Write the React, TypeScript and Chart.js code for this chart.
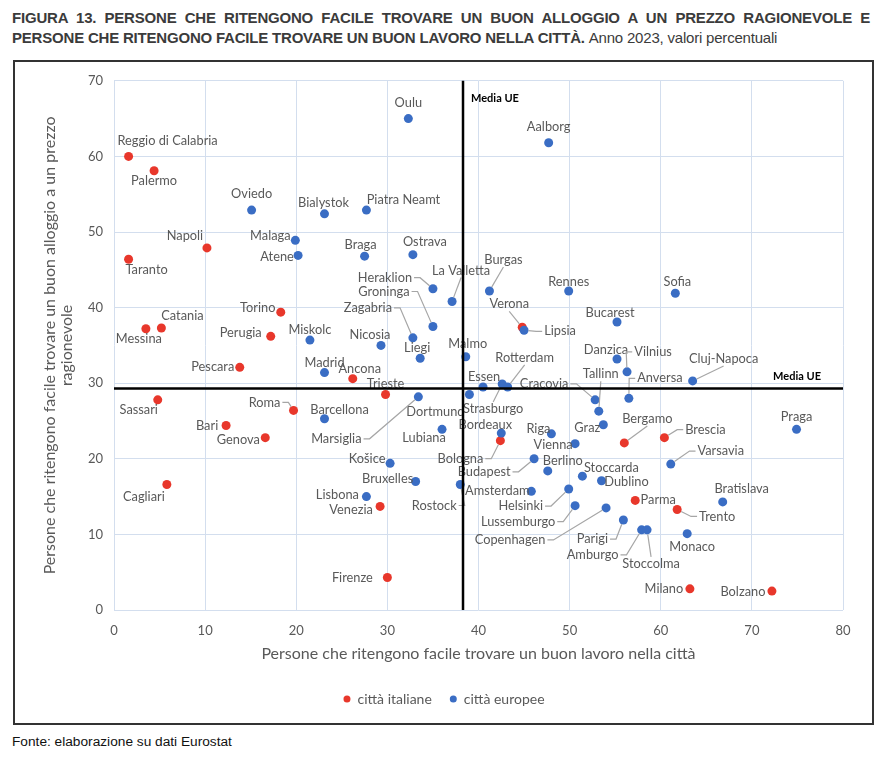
import React, { useEffect, useRef } from 'react';
import { Chart, registerables } from 'chart.js';

Chart.register(...registerables);

// ---- Data (percent values, 2023) ----
const italianCities = ['Reggio di Calabria', 'Palermo', 'Napoli', 'Taranto', 'Torino', 'Catania', 'Messina', 'Perugia', 'Pescara', 'Ancona', 'Trieste', 'Sassari', 'Roma', 'Bari', 'Genova', 'Cagliari', 'Venezia', 'Firenze', 'Verona', 'Bologna', 'Bergamo', 'Brescia', 'Parma', 'Trento', 'Milano', 'Bolzano'];
const italianJob = [1.6, 4.4, 10.2, 1.6, 18.3, 5.2, 3.5, 17.2, 13.8, 26.2, 29.8, 4.8, 19.7, 12.3, 16.6, 5.8, 29.2, 30.0, 44.8, 42.4, 56.0, 60.4, 57.2, 61.8, 63.2, 72.2];
const italianHousing = [60.0, 58.1, 47.9, 46.4, 39.4, 37.3, 37.2, 36.2, 32.1, 30.6, 28.5, 27.8, 26.4, 24.4, 22.8, 16.6, 13.7, 4.3, 37.4, 22.4, 22.1, 22.8, 14.5, 13.3, 2.8, 2.5];

const europeanCities = ['Oulu', 'Aalborg', 'Oviedo', 'Bialystok', 'Piatra Neamt', 'Malaga', 'Atene', 'Braga', 'Ostrava', 'Heraklion', 'La Valletta', 'Burgas', 'Rennes', 'Sofia', 'Groninga', 'Lipsia', 'Bucarest', 'Zagabria', 'Miskolc', 'Nicosia', 'Liegi', 'Malmo', 'Danzica', 'Madrid', 'Vilnius', 'Cluj-Napoca', 'Essen', 'Strasburgo', 'Rotterdam', 'Dortmund', 'Marsiglia', 'Cracovia', 'Anversa', 'Tallinn', 'Barcellona', 'Graz', 'Praga', 'Lubiana', 'Bordeaux', 'Riga', 'Vienna', 'Budapest', 'Košice', 'Varsavia', 'Berlino', 'Stoccarda', 'Dublino', 'Bruxelles', 'Rostock', 'Helsinki', 'Amsterdam', 'Lisbona', 'Bratislava', 'Lussemburgo', 'Copenhagen', 'Parigi', 'Amburgo', 'Stoccolma', 'Monaco'];
const europeanJob = [32.3, 47.7, 15.1, 23.1, 27.7, 19.9, 20.2, 27.5, 32.8, 35.0, 37.1, 41.2, 49.9, 61.6, 35.0, 45.0, 55.2, 32.8, 21.5, 29.3, 33.6, 38.6, 55.2, 23.1, 56.3, 63.5, 40.5, 42.6, 43.2, 39.0, 33.4, 52.8, 56.5, 53.2, 23.1, 53.7, 74.9, 36.0, 42.5, 48.0, 50.6, 46.1, 30.3, 61.1, 47.6, 51.4, 53.5, 33.1, 38.0, 49.9, 45.8, 27.7, 66.8, 50.6, 54.0, 55.9, 57.9, 58.5, 62.9];
const europeanHousing = [65.0, 61.8, 52.9, 52.4, 52.9, 48.9, 46.9, 46.8, 47.0, 42.5, 40.8, 42.2, 42.2, 41.9, 37.5, 37.0, 38.1, 36.0, 35.7, 35.0, 33.3, 33.5, 33.2, 31.4, 31.5, 30.3, 29.5, 29.9, 29.5, 28.5, 28.2, 27.8, 28.0, 26.3, 25.3, 24.5, 23.9, 23.9, 23.4, 23.3, 22.0, 20.0, 19.4, 19.3, 18.4, 17.7, 17.1, 17.0, 16.6, 16.0, 15.7, 15.0, 14.3, 13.8, 13.5, 11.9, 10.6, 10.6, 10.1];

const mediaUeJob = 38.3;
const mediaUeHousing = 29.3;

const xMin = 0, xMax = 80, xStep = 10;
const yMin = 0, yMax = 70, yStep = 10;

// ---- Label placement (pixel offsets from the point: dx, dy, leader line) ----
const labelPlacement: Record<string, [number, number, number]> = {
  'Reggio di Calabria': [39, -16, 0], 'Palermo': [0, 10, 0], 'Napoli': [-22, -12, 0], 'Taranto': [18, 11, 0],
  'Torino': [-23, -4, 0], 'Catania': [21, -12, 0], 'Messina': [-7, 10, 0], 'Perugia': [-30, -3, 0],
  'Pescara': [-27, 0, 0], 'Ancona': [7, -10, 0], 'Trieste': [0, -11, 0], 'Sassari': [-19, 10, 0],
  'Roma': [-29, -8, 1], 'Bari': [-19, 0, 0], 'Genova': [-27, 2, 0], 'Cagliari': [-23, 12, 0],
  'Venezia': [-29, 3, 0], 'Firenze': [-35, 0, 0], 'Verona': [-13, -23, 1], 'Bologna': [-40, 18, 1],
  'Bergamo': [23, -24, 1], 'Brescia': [41, -8, 1], 'Parma': [23, -1, 0], 'Trento': [40, 7, 1],
  'Milano': [-26, 0, 0], 'Bolzano': [-29, 1, 0],
  'Oulu': [0, -16, 0], 'Aalborg': [0, -16, 0], 'Oviedo': [0, -16, 0], 'Bialystok': [-1, -11, 0],
  'Piatra Neamt': [37, -10, 0], 'Malaga': [-25, -4, 0], 'Atene': [-21, 1, 0], 'Braga': [-4, -11, 0],
  'Ostrava': [12, -13, 0], 'Heraklion': [-48, -11, 1], 'La Valletta': [9, -31, 1], 'Burgas': [14, -31, 1],
  'Rennes': [0, -9, 0], 'Sofia': [2, -11, 0], 'Groninga': [-49, -35, 1], 'Lipsia': [36, 1, 1],
  'Bucarest': [-7, -9, 0], 'Zagabria': [-45, -30, 1], 'Miskolc': [0, -10, 0], 'Nicosia': [-11, -11, 0],
  'Liegi': [-3, -10, 0], 'Malmo': [2, -13, 0], 'Danzica': [-11, -9, 0], 'Madrid': [0, -10, 0],
  'Vilnius': [26, -20, 1], 'Cluj-Napoca': [31, -22, 1], 'Essen': [1, -10, 0], 'Strasburgo': [-9, 25, 1],
  'Rotterdam': [17, -29, 1], 'Dortmund': [-34, 17, 0], 'Marsiglia': [-82, 42, 1], 'Cracovia': [-51, -16, 1],
  'Anversa': [31, -20, 1], 'Tallinn': [2, -37, 1], 'Barcellona': [15, -9, 0], 'Graz': [-16, 3, 0],
  'Praga': [0, -12, 0], 'Lubiana': [-18, 9, 0], 'Bordeaux': [-16, -8, 0], 'Riga': [-13, -5, 0],
  'Vienna': [-22, 1, 0], 'Budapest': [-50, 13, 1], 'Košice': [-23, -4, 0], 'Varsavia': [50, -13, 1],
  'Berlino': [15, -10, 0], 'Stoccarda': [29, -8, 0], 'Dublino': [25, 1, 0], 'Bruxelles': [-28, -3, 0],
  'Rostock': [-26, 21, 1], 'Helsinki': [-48, 17, 1], 'Amsterdam': [-34, 0, 0], 'Lisbona': [-29, -2, 0],
  'Bratislava': [19, -13, 0], 'Lussemburgo': [-57, 16, 1], 'Copenhagen': [-96, 32, 1], 'Parigi': [-31, 19, 1],
  'Amburgo': [-49, 25, 1], 'Stoccolma': [4, 34, 1], 'Monaco': [5, 13, 0],
};

const RED = '#E8372B';
const BLUE = '#3A6DC4';
const TEXT_GRAY = '#595959';
const GRID = '#D3DEEE';
const FONT = 'Lato, "Noto Sans", sans-serif';
const POINT_R = 4.5;

// canvas sits inside a 2px frame: page (15,62) .. (872,723)
const CANVAS_W = 857;
const CANVAS_H = 661;
const PAD_LEFT = 30;
const PAD_RIGHT = 29;
const PLOT_TOP = 17;
const PLOT_LEFT = 99;
const PLOT_H = 531;
const PAD_BOTTOM = 7;

function drawLeader(ctx: CanvasRenderingContext2D, px: number, py: number, lx: number, ly: number, w: number, h: number) {
  const hw = w / 2 + 2, hh = h / 2 + 1;
  let sx: number, sy: number, mx: number, my: number;
  if (px > lx + hw) { sx = lx + hw; sy = ly; mx = sx + 6; my = sy; }
  else if (px < lx - hw) { sx = lx - hw; sy = ly; mx = sx - 6; my = sy; }
  else if (py > ly) { sx = lx; sy = ly + hh; mx = sx; my = sy; }
  else { sx = lx; sy = ly - hh; mx = sx; my = sy; }
  const ddx = px - mx, ddy = py - my;
  const d = Math.hypot(ddx, ddy) || 1;
  const ex = px - (ddx / d) * POINT_R, ey = py - (ddy / d) * POINT_R;
  ctx.beginPath();
  ctx.moveTo(sx, sy);
  ctx.lineTo(mx, my);
  ctx.lineTo(ex, ey);
  ctx.stroke();
}

const cityLabelPlugin = {
  id: 'cityLabels',
  afterDatasetsDraw(chart: any) {
    const ctx: CanvasRenderingContext2D = chart.ctx;
    ctx.save();
    ctx.font = `12.8px ${FONT}`;
    ctx.textAlign = 'center';
    ctx.textBaseline = 'middle';
    chart.data.datasets.forEach((ds: any, di: number) => {
      const meta = chart.getDatasetMeta(di);
      const names: string[] = ds.cityNames;
      meta.data.forEach((el: any, i: number) => {
        const name = names[i];
        const [dx, dy, leader] = labelPlacement[name] || [0, -12, 0];
        const lx = el.x + dx, ly = el.y + dy;
        if (leader) {
          const w = ctx.measureText(name).width;
          ctx.strokeStyle = '#A6A6A6';
          ctx.lineWidth = 1.2;
          drawLeader(ctx, el.x, el.y, lx, ly, w, 12);
        }
        ctx.fillStyle = TEXT_GRAY;
        ctx.fillText(name, lx, ly);
      });
    });

    // EU average lines
    const xs = chart.scales.x, ys = chart.scales.y;
    const { left, right, top, bottom } = chart.chartArea;
    const xp = xs.getPixelForValue(mediaUeJob);
    const yp = ys.getPixelForValue(mediaUeHousing);
    ctx.strokeStyle = '#000';
    ctx.lineWidth = 2.5;
    ctx.beginPath();
    ctx.moveTo(xp, top);
    ctx.lineTo(xp, bottom);
    ctx.moveTo(left, yp);
    ctx.lineTo(right, yp);
    ctx.stroke();
    ctx.fillStyle = '#000';
    ctx.font = `bold 11px ${FONT}`;
    ctx.textAlign = 'left';
    ctx.fillText('Media UE', xp + 8, top + 18);
    ctx.textAlign = 'right';
    ctx.fillText('Media UE', right - 22, yp - 12);
    ctx.restore();
  },
};

function buildPoints(xsArr: number[], ysArr: number[]) {
  return xsArr.map((x, i) => ({ x, y: ysArr[i] }));
}

function App() {
  const canvasRef = useRef<HTMLCanvasElement | null>(null);

  useEffect(() => {
    if (!canvasRef.current) return;
    const chart = new Chart(canvasRef.current, {
      type: 'scatter',
      data: {
        datasets: [
          {
            label: 'città italiane',
            data: buildPoints(italianJob, italianHousing),
            backgroundColor: RED,
            borderWidth: 0,
            pointRadius: POINT_R,
            pointHoverRadius: POINT_R,
            order: 1,
            cityNames: italianCities,
          } as any,
          {
            label: 'città europee',
            data: buildPoints(europeanJob, europeanHousing),
            backgroundColor: BLUE,
            borderWidth: 0,
            pointRadius: POINT_R,
            pointHoverRadius: POINT_R,
            order: 0,
            cityNames: europeanCities,
          } as any,
        ],
      },
      options: {
        responsive: false,
        animation: false,
        layout: { padding: { top: PLOT_TOP, right: PAD_RIGHT, left: PAD_LEFT, bottom: PAD_BOTTOM } },
        plugins: {
          tooltip: { enabled: false },
          legend: {
            position: 'bottom',
            labels: {
              usePointStyle: true,
              pointStyle: 'circle',
              boxHeight: 5,
              pointStyleWidth: 7,
              padding: 18,
              color: TEXT_GRAY,
              font: { family: FONT, size: 14 },
              sort: (a: any, b: any) => a.datasetIndex - b.datasetIndex,
            },
          },
        },
        scales: {
          x: {
            type: 'linear',
            min: xMin,
            max: xMax,
            ticks: { stepSize: xStep, color: TEXT_GRAY, padding: 13, font: { family: FONT, size: 13 } },
            grid: { color: GRID, drawTicks: false },
            border: { display: false },
            title: {
              display: true,
              text: 'Persone che ritengono facile trovare un buon lavoro nella città',
              color: TEXT_GRAY,
              font: { family: FONT, size: 16 },
              padding: { top: 0, bottom: 11 },
            },
            afterFit: (s: any) => {
              const lh = s.chart.legend ? s.chart.legend.height : 0;
              s.height = CANVAS_H - PLOT_TOP - PLOT_H - PAD_BOTTOM - lh;
            },
          },
          y: {
            type: 'linear',
            min: yMin,
            max: yMax,
            ticks: { stepSize: yStep, color: TEXT_GRAY, padding: 11, font: { family: FONT, size: 13 } },
            grid: { color: GRID, drawTicks: false },
            border: { display: false },
            title: {
              display: true,
              text: ['Persone che ritengono facile trovare un buon alloggio a un prezzo', 'ragionevole'],
              color: TEXT_GRAY,
              font: { family: FONT, size: 16, lineHeight: 1.08 },
              padding: { top: -3.6, bottom: 0 },
            },
            afterFit: (s: any) => {
              s.width = PLOT_LEFT - PAD_LEFT;
            },
          },
        },
      } as any,
      plugins: [cityLabelPlugin],
    });
    return () => chart.destroy();
  }, []);

  return (
    <div style={{ width: 873, fontFamily: 'Liberation Sans, Arial, sans-serif' }}>
      <div style={{ padding: '0 11px 0 4px', color: '#3B3B3B', fontFamily: '"Liberation Sans Narrow", "Liberation Sans", Arial, sans-serif', fontSize: 15, lineHeight: '20px', fontWeight: 'bold', letterSpacing: '-0.2px' }}>
        <div style={{ textAlign: 'justify', textAlignLast: 'justify' }}>
          FIGURA 13. PERSONE CHE RITENGONO FACILE TROVARE UN BUON ALLOGGIO A UN PREZZO RAGIONEVOLE E
        </div>
        <div>
          PERSONE CHE RITENGONO FACILE TROVARE UN BUON LAVORO NELLA CITTÀ.{' '}
          <span style={{ fontWeight: 'normal' }}>Anno 2023, valori percentuali</span>
        </div>
      </div>
      <div style={{ marginTop: 12, marginLeft: 5, width: 861, height: 665, boxSizing: 'border-box', border: '2px solid #333' }}>
        <canvas ref={canvasRef} width={CANVAS_W} height={CANVAS_H} style={{ display: 'block', width: CANVAS_W, height: CANVAS_H }} />
      </div>
      <div style={{ marginTop: 9, paddingLeft: 4, fontFamily: '"Liberation Sans Narrow", "Liberation Sans", Arial, sans-serif', fontSize: 13.7, color: '#111', lineHeight: '16px' }}>
        Fonte: elaborazione su dati Eurostat
      </div>
    </div>
  );
}

export default App;
